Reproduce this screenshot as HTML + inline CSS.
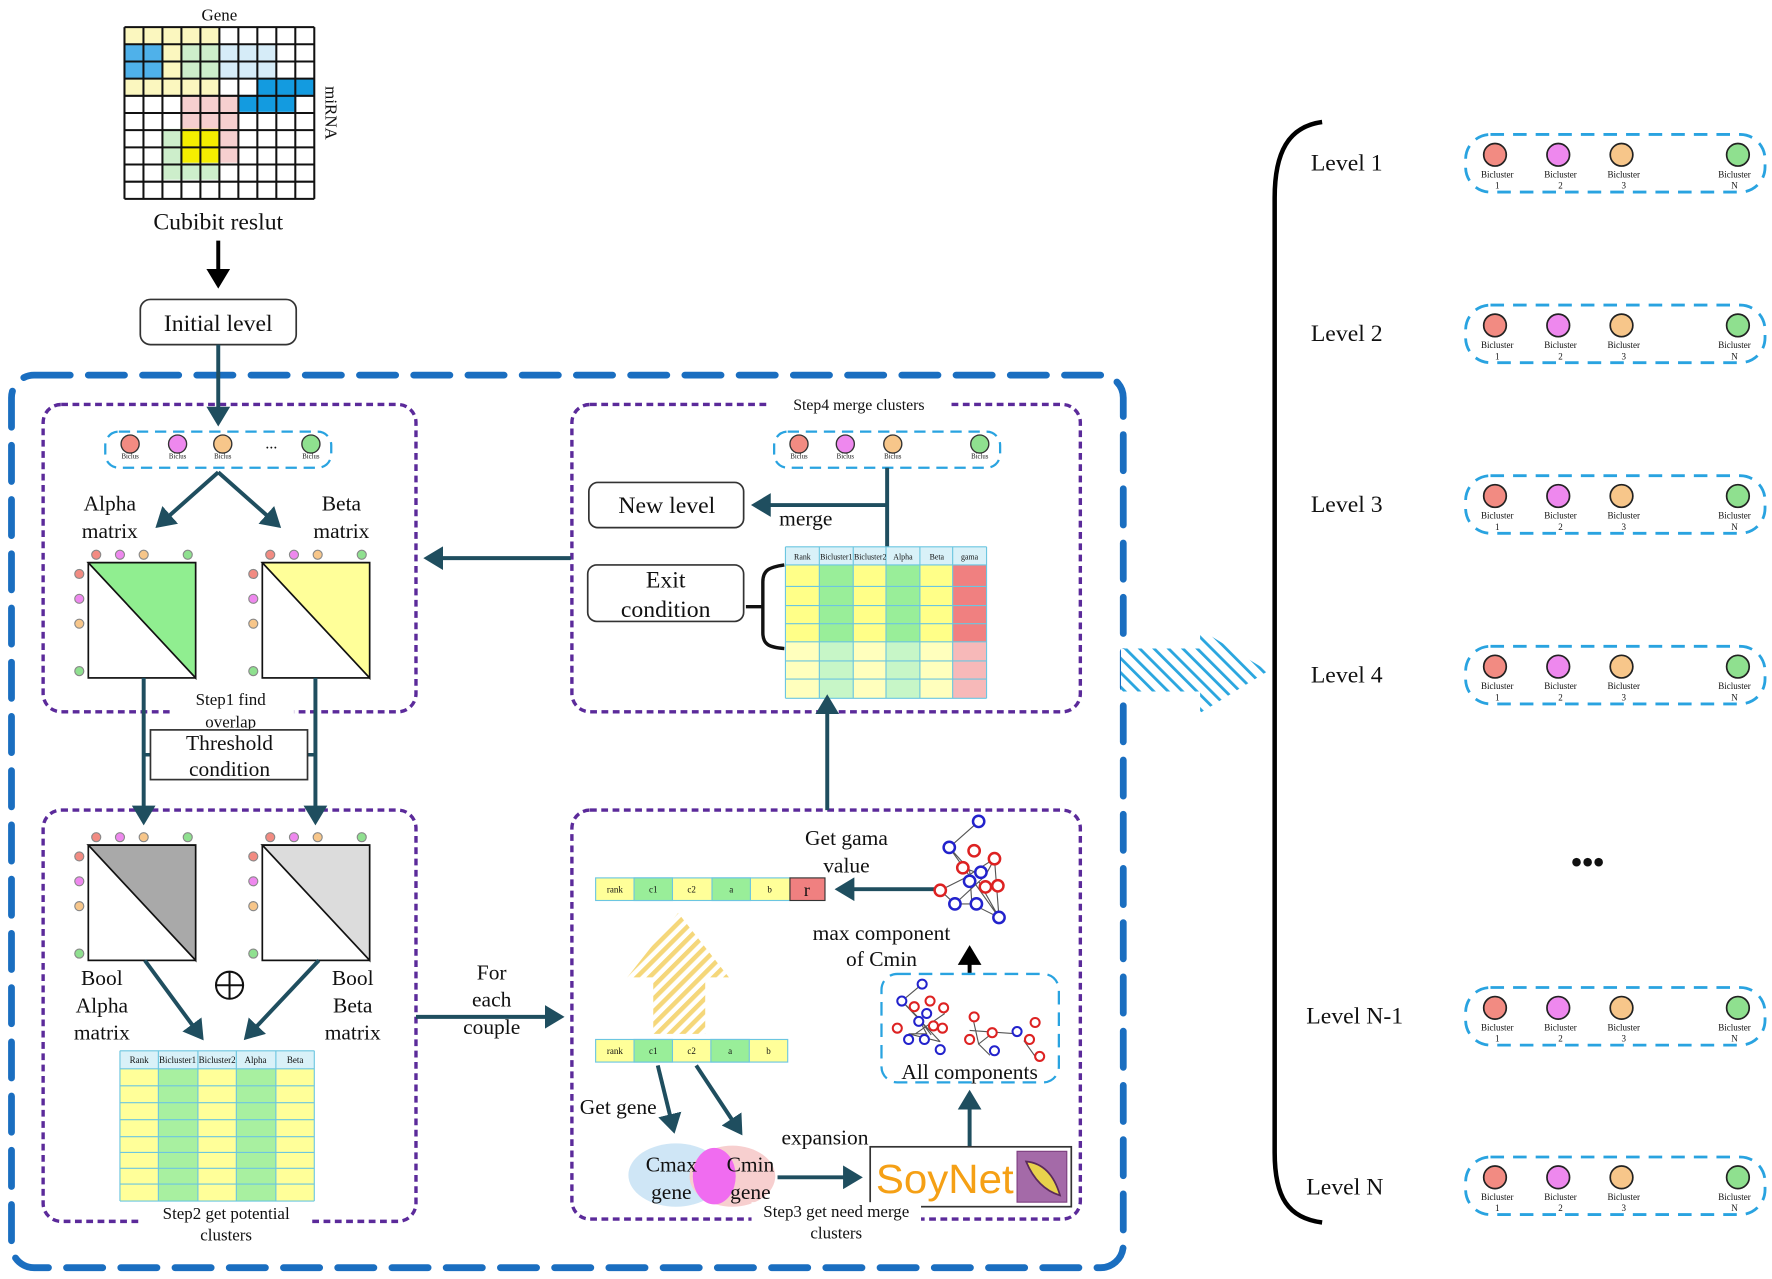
<!DOCTYPE html>
<html><head><meta charset="utf-8"><style>
html,body{margin:0;padding:0;background:#fff}
svg{display:block}
text{font-family:"Liberation Serif",serif;fill:#111}
</style></head><body>
<svg width="1772" height="1279" viewBox="0 0 1568 1132" xmlns="http://www.w3.org/2000/svg">
<defs>
<marker id="ah" markerWidth="6" markerHeight="6" refX="4" refY="3" orient="auto" markerUnits="strokeWidth"><path d="M0,0 L5,3 L0,6 Z" fill="#1f4e5f"/></marker>
<marker id="ahk" markerWidth="6" markerHeight="6" refX="4" refY="3" orient="auto" markerUnits="strokeWidth"><path d="M0,0 L5,3 L0,6 Z" fill="#000"/></marker>
<pattern id="hy" width="8" height="8" patternUnits="userSpaceOnUse" patternTransform="rotate(45)"><rect width="8" height="8" fill="#fff"/><rect width="4" height="8" fill="#f5d77a"/></pattern>
<pattern id="hb" width="9" height="9" patternUnits="userSpaceOnUse" patternTransform="rotate(-45)"><rect width="9" height="9" fill="#fff"/><rect width="2.5" height="9" fill="#2aa6df"/></pattern>
</defs>

<g>
<g fill="#fbf7bf">
<rect x="110" y="24" width="84" height="15"/><rect x="144" y="39" width="17" height="30"/><rect x="110" y="69" width="84" height="15"/>
</g>
<rect x="110" y="39" width="34" height="30" fill="#4fb1ea"/>
<rect x="161" y="39" width="33" height="30" fill="#cdeecb"/>
<rect x="194" y="39" width="51" height="30" fill="#d6ecf8"/>
<rect x="228" y="69" width="50" height="15" fill="#139be0"/>
<rect x="211" y="84" width="51" height="15" fill="#139be0"/>
<rect x="161" y="84" width="50" height="30" fill="#f6cfcf"/>
<rect x="194" y="114" width="17" height="30" fill="#f6cfcf"/>
<rect x="144" y="114" width="17" height="30" fill="#cdeecb"/>
<rect x="144" y="144" width="50" height="15" fill="#cdeecb"/>
<rect x="161" y="114" width="33" height="30" fill="#f5ee00"/>
<path d="M110 24V176M126.8 24V176M143.6 24V176M160.4 24V176M177.2 24V176M194 24V176M210.8 24V176M227.6 24V176M244.4 24V176M261.2 24V176M278 24V176M110 24H278M110 39.2H278M110 54.4H278M110 69.6H278M110 84.8H278M110 100H278M110 115.2H278M110 130.4H278M110 145.6H278M110 160.8H278M110 176H278" stroke="#111" stroke-width="1.8" fill="none"/>
</g>
<text x="194" y="18" font-size="15" text-anchor="middle">Gene</text>
<text x="288" y="100" font-size="15" text-anchor="middle" transform="rotate(90 288 100)">miRNA</text>
<text x="193" y="203" font-size="21" text-anchor="middle">Cubibit reslut</text>
<line x1="193" y1="213" x2="193" y2="252" stroke="#000" stroke-width="3.5" marker-end="url(#ahk)"/>
<rect x="124" y="265" width="138" height="40" rx="9" fill="#fff" stroke="#333" stroke-width="1.5"/>
<text x="193" y="293" font-size="21" text-anchor="middle">Initial level</text>

<rect x="10" y="332" width="984" height="790" rx="20" fill="none" stroke="#1a6ec0" stroke-width="6" stroke-dasharray="32 16" stroke-linecap="round"/>

<g fill="none" stroke="#5b2a9a" stroke-width="3" stroke-dasharray="6 4">
<rect x="38" y="358" width="330" height="272" rx="16"/>
<rect x="506" y="358" width="450" height="272" rx="16"/>
<rect x="38" y="717" width="330" height="364" rx="16"/>
<rect x="506" y="717" width="450" height="362" rx="16"/>
</g>
<rect x="680" y="350" width="160" height="16" fill="#fff"/>
<text x="760" y="363" font-size="14" text-anchor="middle">Step4 merge clusters</text>

<line x1="193" y1="305" x2="193" y2="374" stroke="#1f4e5f" stroke-width="3.5" marker-end="url(#ah)"/>

<rect x="93" y="382" width="200" height="32" rx="12" fill="#fff" stroke="#29a3e0" stroke-width="2" stroke-dasharray="10 6"/>
<g stroke="#333" stroke-width="1.2"><circle cx="115" cy="393" r="8" fill="#f28b82"/><circle cx="157" cy="393" r="8" fill="#ee88ee"/><circle cx="197" cy="393" r="8" fill="#f7c68a"/><circle cx="275" cy="393" r="8" fill="#8fe08f"/></g>
<text x="240" y="397" font-size="14" text-anchor="middle">...</text>
<g font-size="6" text-anchor="middle"><text x="115" y="406">Biclus</text><text x="157" y="406">Biclus</text><text x="197" y="406">Biclus</text><text x="275" y="406">Biclus</text></g>

<line x1="193" y1="418" x2="140" y2="465" stroke="#1f4e5f" stroke-width="3.5" marker-end="url(#ah)"/>
<line x1="193" y1="418" x2="246" y2="465" stroke="#1f4e5f" stroke-width="3.5" marker-end="url(#ah)"/>
<g font-size="19" text-anchor="middle"><text x="97" y="452">Alpha</text><text x="97" y="476">matrix</text><text x="302" y="452">Beta</text><text x="302" y="476">matrix</text></g>

<g stroke="#111" stroke-width="1.5">
<rect x="78" y="498" width="95" height="102" fill="#fff"/><path d="M78 498H173V600Z" fill="#90ee90"/>
<rect x="232" y="498" width="95" height="102" fill="#fff"/><path d="M232 498H327V600Z" fill="#ffff99"/>
<rect x="78" y="748" width="95" height="102" fill="#fff"/><path d="M78 748H173V850Z" fill="#a9a9a9"/>
<rect x="232" y="748" width="95" height="102" fill="#fff"/><path d="M232 748H327V850Z" fill="#dcdcdc"/>
</g>
<g stroke="#888" stroke-width="1" font-size="8">
<g fill="#f28b82"><circle cx="85" cy="491" r="4"/><circle cx="70" cy="508" r="4"/><circle cx="239" cy="491" r="4"/><circle cx="224" cy="508" r="4"/><circle cx="85" cy="741" r="4"/><circle cx="70" cy="758" r="4"/><circle cx="239" cy="741" r="4"/><circle cx="224" cy="758" r="4"/></g>
<g fill="#ee88ee"><circle cx="106" cy="491" r="4"/><circle cx="70" cy="530" r="4"/><circle cx="260" cy="491" r="4"/><circle cx="224" cy="530" r="4"/><circle cx="106" cy="741" r="4"/><circle cx="70" cy="780" r="4"/><circle cx="260" cy="741" r="4"/><circle cx="224" cy="780" r="4"/></g>
<g fill="#f7c68a"><circle cx="127" cy="491" r="4"/><circle cx="70" cy="552" r="4"/><circle cx="281" cy="491" r="4"/><circle cx="224" cy="552" r="4"/><circle cx="127" cy="741" r="4"/><circle cx="70" cy="802" r="4"/><circle cx="281" cy="741" r="4"/><circle cx="224" cy="802" r="4"/></g>
<g fill="#8fe08f"><circle cx="166" cy="491" r="4"/><circle cx="70" cy="594" r="4"/><circle cx="320" cy="491" r="4"/><circle cx="224" cy="594" r="4"/><circle cx="166" cy="741" r="4"/><circle cx="70" cy="844" r="4"/><circle cx="320" cy="741" r="4"/><circle cx="224" cy="844" r="4"/></g>
</g>

<rect x="150" y="606" width="110" height="38" fill="#fff"/>
<g font-size="15" text-anchor="middle"><text x="204" y="624">Step1 find</text><text x="204" y="644">overlap</text></g>
<line x1="127" y1="600" x2="127" y2="727" stroke="#1f4e5f" stroke-width="3.5" marker-end="url(#ah)"/>
<line x1="279" y1="600" x2="279" y2="727" stroke="#1f4e5f" stroke-width="3.5" marker-end="url(#ah)"/>
<path d="M127 668H133M272 668H279" stroke="#1f4e5f" stroke-width="3"/>
<rect x="133" y="646" width="139" height="44" fill="#fff" stroke="#333" stroke-width="1.5"/>
<g font-size="19" text-anchor="middle"><text x="203" y="664">Threshold</text><text x="203" y="687">condition</text></g>

<g font-size="19" text-anchor="middle"><text x="90" y="872">Bool</text><text x="90" y="896">Alpha</text><text x="90" y="920">matrix</text><text x="312" y="872">Bool</text><text x="312" y="896">Beta</text><text x="312" y="920">matrix</text></g>
<circle cx="203" cy="872" r="12" fill="none" stroke="#111" stroke-width="1.8"/><path d="M191 872H215M203 860V884" stroke="#111" stroke-width="1.8"/>
<line x1="128" y1="850" x2="178" y2="918" stroke="#1f4e5f" stroke-width="3.5" marker-end="url(#ah)"/>
<line x1="282" y1="850" x2="218" y2="918" stroke="#1f4e5f" stroke-width="3.5" marker-end="url(#ah)"/>
<g>
<rect x="106" y="930" width="172" height="133" fill="#ffff99"/>
<rect x="140" y="930" width="35" height="133" fill="#a8f0a0"/><rect x="209" y="930" width="35" height="133" fill="#a8f0a0"/>
<rect x="106" y="930" width="172" height="16" fill="#d9f1f8"/>
<path d="M106 930H278M106 946H278M106 961H278M106 976H278M106 991H278M106 1006H278M106 1020H278M106 1034H278M106 1048H278M106 1063H278M106 930V1063M140 930V1063M175 930V1063M209 930V1063M244 930V1063M278 930V1063" stroke="#6cc6e0" stroke-width="1" fill="none"/>
<g font-size="8" text-anchor="middle" fill="#060"><text x="123" y="941">Rank</text><text x="157" y="941">Bicluster1</text><text x="192" y="941">Bicluster2</text><text x="226" y="941">Alpha</text><text x="261" y="941">Beta</text></g>
</g>
<rect x="125" y="1064" width="150" height="22" fill="#fff"/>
<g font-size="15" text-anchor="middle"><text x="200" y="1079">Step2 get potential</text><text x="200" y="1098">clusters</text></g>

<g font-size="19" text-anchor="middle"><text x="435" y="867">For</text><text x="435" y="891">each</text><text x="435" y="915">couple</text></g>
<line x1="368" y1="900" x2="496" y2="900" stroke="#1f4e5f" stroke-width="3.5" marker-end="url(#ah)"/>
<line x1="505" y1="494" x2="378" y2="494" stroke="#1f4e5f" stroke-width="3.5" marker-end="url(#ah)"/>

<rect x="685" y="382" width="200" height="32" rx="12" fill="#fff" stroke="#29a3e0" stroke-width="2" stroke-dasharray="10 6"/>
<g stroke="#333" stroke-width="1.2"><circle cx="707" cy="393" r="8" fill="#f28b82"/><circle cx="748" cy="393" r="8" fill="#ee88ee"/><circle cx="790" cy="393" r="8" fill="#f7c68a"/><circle cx="867" cy="393" r="8" fill="#8fe08f"/></g>
<g font-size="6" text-anchor="middle"><text x="707" y="406">Biclus</text><text x="748" y="406">Biclus</text><text x="790" y="406">Biclus</text><text x="867" y="406">Biclus</text></g>
<line x1="785" y1="414" x2="785" y2="484" stroke="#1f4e5f" stroke-width="3.5"/>
<line x1="785" y1="447" x2="668" y2="447" stroke="#1f4e5f" stroke-width="3.5" marker-end="url(#ah)"/>
<text x="713" y="465" font-size="19" text-anchor="middle">merge</text>
<rect x="521" y="427" width="137" height="40" rx="8" fill="#fff" stroke="#333" stroke-width="1.5"/>
<text x="590" y="454" font-size="21" text-anchor="middle">New level</text>
<rect x="520" y="500" width="138" height="50" rx="8" fill="#fff" stroke="#333" stroke-width="1.5"/>
<g font-size="21" text-anchor="middle"><text x="589" y="520">Exit</text><text x="589" y="546">condition</text></g>
<path d="M694 500C680 502 675 505 675 515V560C675 570 680 573 694 574M675 537H660" stroke="#111" stroke-width="3" fill="none"/>
<g>
<rect x="695" y="484" width="178" height="134" fill="#ffff88"/>
<rect x="725" y="484" width="30" height="134" fill="#99ee99"/><rect x="784" y="484" width="30" height="134" fill="#99ee99"/>
<rect x="843" y="484" width="30" height="134" fill="#f08080"/>
<rect x="695" y="484" width="178" height="16" fill="#d9f1f8"/>
<rect x="695" y="568" width="178" height="50" fill="#fff" opacity="0.45"/>
<path d="M695 484H873M695 500H873M695 519H873M695 536H873M695 552H873M695 568H873M695 585H873M695 601H873M695 618H873M695 484V618M725 484V618M755 484V618M784 484V618M814 484V618M843 484V618M873 484V618" stroke="#6cc6e0" stroke-width="1" fill="none"/>
<g font-size="7" text-anchor="middle" fill="#060"><text x="710" y="495">Rank</text><text x="740" y="495">Bicluster1</text><text x="770" y="495">Bicluster2</text><text x="799" y="495">Alpha</text><text x="829" y="495">Beta</text><text x="858" y="495">gama</text></g>
</g>
<line x1="732" y1="717" x2="732" y2="618" stroke="#1f4e5f" stroke-width="3.5" marker-end="url(#ah)"/>

<g>
<rect x="527" y="777" width="172" height="20" fill="#ffff99" stroke="#6cc6e0"/>
<rect x="561" y="777" width="34" height="20" fill="#99ee99" stroke="#6cc6e0"/><rect x="630" y="777" width="34" height="20" fill="#99ee99" stroke="#6cc6e0"/>
<rect x="699" y="777" width="31" height="20" fill="#f08080" stroke="#333"/>
<g font-size="8" text-anchor="middle"><text x="544" y="790">rank</text><text x="578" y="790">c1</text><text x="612" y="790">c2</text><text x="647" y="790">a</text><text x="681" y="790">b</text></g>
<text x="714" y="793" font-size="16" text-anchor="middle">r</text>
<rect x="527" y="920" width="170" height="20" fill="#ffff99" stroke="#6cc6e0"/>
<rect x="561" y="920" width="34" height="20" fill="#99ee99" stroke="#6cc6e0"/><rect x="629" y="920" width="34" height="20" fill="#99ee99" stroke="#6cc6e0"/>
<g font-size="8" text-anchor="middle"><text x="544" y="933">rank</text><text x="578" y="933">c1</text><text x="612" y="933">c2</text><text x="646" y="933">a</text><text x="680" y="933">b</text></g>
</g>
<path d="M600 808L645 865H624V915H578V865H555Z" fill="url(#hy)"/>
<line x1="828" y1="787" x2="742" y2="787" stroke="#1f4e5f" stroke-width="3.5" marker-end="url(#ah)"/>
<g font-size="19" text-anchor="middle"><text x="749" y="748">Get gama</text><text x="749" y="772">value</text><text x="780" y="832">max component</text><text x="780" y="855">of Cmin</text></g>
<g stroke="#555" stroke-width="1" fill="none"><path d="M866 727L840 750L858 770L872 775L880 760L884 812L860 800L845 800L832 788L852 778M840 750L884 812M858 770L860 800M872 775L845 800M866 780L884 812M852 778L880 760"/></g>
<g fill="#fff" stroke-width="2.2">
<g stroke="#22c"><circle cx="866" cy="727" r="5"/><circle cx="840" cy="750" r="5"/><circle cx="868" cy="772" r="5"/><circle cx="858" cy="780" r="5"/><circle cx="845" cy="800" r="5"/><circle cx="864" cy="800" r="5"/><circle cx="884" cy="812" r="5"/></g>
<g stroke="#d22"><circle cx="862" cy="753" r="5"/><circle cx="880" cy="760" r="5"/><circle cx="852" cy="768" r="5"/><circle cx="872" cy="785" r="5"/><circle cx="883" cy="784" r="5"/><circle cx="832" cy="788" r="5"/></g>
</g>
<line x1="858" y1="866" x2="858" y2="840" stroke="#000" stroke-width="3.5" marker-end="url(#ahk)"/>
<rect x="780" y="862" width="157" height="96" rx="14" fill="#fff" stroke="#29a3e0" stroke-width="2" stroke-dasharray="12 7"/>
<g stroke="#555" stroke-width="1" fill="none"><path d="M816 871L798 886L812 900L820 915L804 915L832 922M798 886L832 922M812 900L824 916M810 915L836 897M880 913L866 924L876 934M866 924L860 897M858 912L900 915M906 921L916 935"/></g>
<g fill="#fff" stroke-width="1.8">
<g stroke="#22c"><circle cx="816" cy="871" r="4"/><circle cx="798" cy="886" r="4"/><circle cx="820" cy="897" r="4"/><circle cx="813" cy="904" r="4"/><circle cx="804" cy="920" r="4"/><circle cx="818" cy="920" r="4"/><circle cx="832" cy="929" r="4"/><circle cx="900" cy="913" r="4"/><circle cx="880" cy="930" r="4"/></g>
<g stroke="#d22"><circle cx="809" cy="891" r="4"/><circle cx="823" cy="886" r="4"/><circle cx="835" cy="892" r="4"/><circle cx="826" cy="908" r="4"/><circle cx="834" cy="910" r="4"/><circle cx="794" cy="910" r="4"/><circle cx="862" cy="900" r="4"/><circle cx="878" cy="914" r="4"/><circle cx="858" cy="920" r="4"/><circle cx="916" cy="905" r="4"/><circle cx="911" cy="920" r="4"/><circle cx="920" cy="935" r="4"/></g>
</g>
<text x="858" y="955" font-size="19" text-anchor="middle">All components</text>
<line x1="858" y1="1015" x2="858" y2="968" stroke="#1f4e5f" stroke-width="3.5" marker-end="url(#ah)"/>
<line x1="582" y1="943" x2="596" y2="1000" stroke="#1f4e5f" stroke-width="3.5" marker-end="url(#ah)"/>
<line x1="616" y1="943" x2="655" y2="1002" stroke="#1f4e5f" stroke-width="3.5" marker-end="url(#ah)"/>
<text x="547" y="986" font-size="19" text-anchor="middle">Get gene</text>
<ellipse cx="598" cy="1040" rx="42" ry="28" fill="#cfe6f6"/>
<ellipse cx="648" cy="1041" rx="38" ry="27" fill="#f7cfcf"/>
<ellipse cx="632" cy="1041" rx="19" ry="25" fill="#f06cf0"/>
<g font-size="19" text-anchor="middle"><text x="594" y="1037">Cmax</text><text x="594" y="1061">gene</text><text x="664" y="1037">Cmin</text><text x="664" y="1061">gene</text></g>
<line x1="688" y1="1042" x2="760" y2="1042" stroke="#1f4e5f" stroke-width="3.5" marker-end="url(#ah)"/>
<text x="730" y="1013" font-size="19" text-anchor="middle">expansion</text>
<rect x="770" y="1015" width="178" height="53" fill="#fff" stroke="#333" stroke-width="1.5"/>
<text x="775" y="1056" font-size="36" textLength="122" lengthAdjust="spacingAndGlyphs" style="fill:#f5a015;font-family:'Liberation Sans',sans-serif">SoyNet</text>
<rect x="900" y="1019" width="44" height="45" fill="#a46aa8" stroke="#7d3f80"/>
<path d="M908 1028Q930 1030 938 1058Q918 1052 908 1028Z" fill="#e8d24c" stroke="#5a2a5a" stroke-width="1.5"/>
<rect x="665" y="1064" width="150" height="24" fill="#fff"/>
<g font-size="15" text-anchor="middle"><text x="740" y="1077">Step3 get need merge</text><text x="740" y="1096">clusters</text></g>

<path d="M992 574H1062V557L1122 594L1062 631V612H992Z" fill="url(#hb)"/>

<path d="M1170 108C1140 112 1128 135 1128 175V1020C1128 1060 1140 1078 1170 1082" fill="none" stroke="#000" stroke-width="4"/>

<g font-size="21">
<text x="1160" y="151">Level 1</text><text x="1160" y="302">Level 2</text><text x="1160" y="453">Level 3</text><text x="1160" y="604">Level 4</text><text x="1156" y="906">Level N-1</text><text x="1156" y="1057">Level N</text>
</g>
<text x="1405" y="772" font-size="28" text-anchor="middle" font-weight="bold">•••</text>

<g>
<g fill="none" stroke="#29a3e0" stroke-width="2.5" stroke-dasharray="12 8">
<rect x="1297" y="119" width="265" height="51" rx="22"/><rect x="1297" y="270" width="265" height="51" rx="22"/><rect x="1297" y="421" width="265" height="51" rx="22"/><rect x="1297" y="572" width="265" height="51" rx="22"/><rect x="1297" y="874" width="265" height="51" rx="22"/><rect x="1297" y="1024" width="265" height="51" rx="22"/>
</g>
<g stroke="#222" stroke-width="1.5">
<g fill="#f28b82"><circle cx="1323" cy="137" r="10"/><circle cx="1323" cy="288" r="10"/><circle cx="1323" cy="439" r="10"/><circle cx="1323" cy="590" r="10"/><circle cx="1323" cy="892" r="10"/><circle cx="1323" cy="1042" r="10"/></g>
<g fill="#ee88ee"><circle cx="1379" cy="137" r="10"/><circle cx="1379" cy="288" r="10"/><circle cx="1379" cy="439" r="10"/><circle cx="1379" cy="590" r="10"/><circle cx="1379" cy="892" r="10"/><circle cx="1379" cy="1042" r="10"/></g>
<g fill="#f7c68a"><circle cx="1435" cy="137" r="10"/><circle cx="1435" cy="288" r="10"/><circle cx="1435" cy="439" r="10"/><circle cx="1435" cy="590" r="10"/><circle cx="1435" cy="892" r="10"/><circle cx="1435" cy="1042" r="10"/></g>
<g fill="#8fe08f"><circle cx="1538" cy="137" r="10"/><circle cx="1538" cy="288" r="10"/><circle cx="1538" cy="439" r="10"/><circle cx="1538" cy="590" r="10"/><circle cx="1538" cy="892" r="10"/><circle cx="1538" cy="1042" r="10"/></g>
</g>
<g font-size="8" text-anchor="middle" fill="#333">
<text x="1325" y="157">Bicluster</text><text x="1381" y="157">Bicluster</text><text x="1437" y="157">Bicluster</text><text x="1535" y="157">Bicluster</text>
<text x="1325" y="308">Bicluster</text><text x="1381" y="308">Bicluster</text><text x="1437" y="308">Bicluster</text><text x="1535" y="308">Bicluster</text>
<text x="1325" y="459">Bicluster</text><text x="1381" y="459">Bicluster</text><text x="1437" y="459">Bicluster</text><text x="1535" y="459">Bicluster</text>
<text x="1325" y="610">Bicluster</text><text x="1381" y="610">Bicluster</text><text x="1437" y="610">Bicluster</text><text x="1535" y="610">Bicluster</text>
<text x="1325" y="912">Bicluster</text><text x="1381" y="912">Bicluster</text><text x="1437" y="912">Bicluster</text><text x="1535" y="912">Bicluster</text>
<text x="1325" y="1062">Bicluster</text><text x="1381" y="1062">Bicluster</text><text x="1437" y="1062">Bicluster</text><text x="1535" y="1062">Bicluster</text>
</g>
<g font-size="8" text-anchor="middle" fill="#333">
<text x="1325" y="167">1</text><text x="1381" y="167">2</text><text x="1437" y="167">3</text><text x="1535" y="167">N</text>
<text x="1325" y="318">1</text><text x="1381" y="318">2</text><text x="1437" y="318">3</text><text x="1535" y="318">N</text>
<text x="1325" y="469">1</text><text x="1381" y="469">2</text><text x="1437" y="469">3</text><text x="1535" y="469">N</text>
<text x="1325" y="620">1</text><text x="1381" y="620">2</text><text x="1437" y="620">3</text><text x="1535" y="620">N</text>
<text x="1325" y="922">1</text><text x="1381" y="922">2</text><text x="1437" y="922">3</text><text x="1535" y="922">N</text>
<text x="1325" y="1072">1</text><text x="1381" y="1072">2</text><text x="1437" y="1072">3</text><text x="1535" y="1072">N</text>
</g>
</g>
</svg>
</body></html>
